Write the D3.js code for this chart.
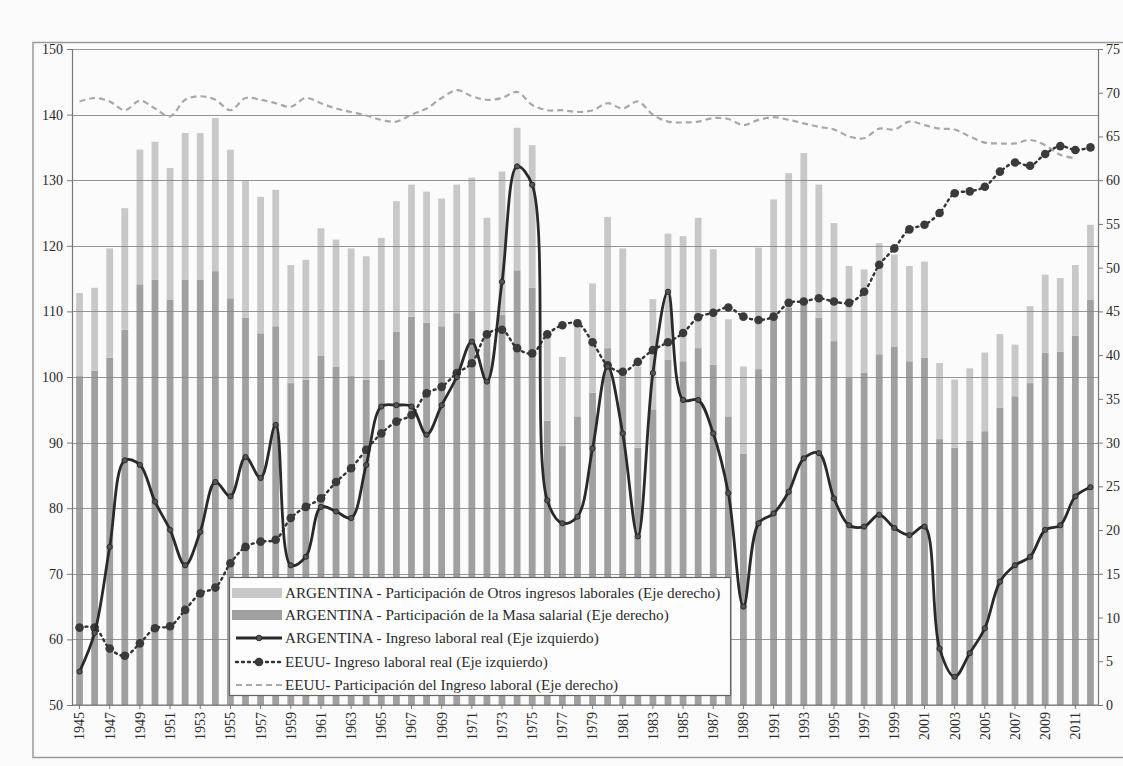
<!DOCTYPE html>
<html><head><meta charset="utf-8">
<script src="https://cdn.jsdelivr.net/npm/d3@7/dist/d3.min.js"></script>
<style>
html,body{margin:0;padding:0;background:#fbfbfb;}
svg{display:block;}
text{font-family:"Liberation Serif","DejaVu Serif",serif;fill:#2a2a2a;}
</style></head><body>
<svg id="chart" width="1123" height="766"></svg>
<script>
const years = [1945,1946,1947,1948,1949,1950,1951,1952,1953,1954,1955,1956,1957,1958,1959,1960,1961,1962,1963,1964,1965,1966,1967,1968,1969,1970,1971,1972,1973,1974,1975,1976,1977,1978,1979,1980,1981,1982,1983,1984,1985,1986,1987,1988,1989,1990,1991,1992,1993,1994,1995,1996,1997,1998,1999,2000,2001,2002,2003,2004,2005,2006,2007,2008,2009,2010,2011,2012];
const yearLabels = [1945,1947,1949,1951,1953,1955,1957,1959,1961,1963,1965,1967,1969,1971,1973,1975,1977,1979,1981,1983,1985,1987,1989,1991,1993,1995,1997,1999,2001,2003,2005,2007,2009,2011];
// ARGENTINA - Participación de la Masa salarial (right axis)
const argMasaSalarial = [37.6,38.2,39.7,42.9,48.1,48.6,46.3,48.6,48.6,49.6,46.5,44.3,42.5,43.3,36.8,37.2,39.9,38.7,37.6,37.2,39.5,42.7,44.4,43.7,43.3,44.8,45.0,42.6,44.6,49.7,47.7,32.5,29.6,33.0,35.7,40.8,38.0,29.4,33.8,39.5,39.3,40.8,38.9,33.0,28.7,38.4,44.1,45.4,46.3,44.3,41.6,37.4,38.0,40.1,41.0,39.3,39.7,30.4,29.4,30.2,31.3,34.0,35.3,36.8,40.3,40.4,42.2,46.3];
// ARGENTINA - Participación de Otros ingresos laborales (right axis, stacked)
const argOtrosIngresos = [9.5,9.5,12.5,13.9,15.4,15.8,15.1,16.8,16.8,17.5,17.0,15.6,15.6,15.6,13.5,13.7,14.6,14.5,14.6,14.1,13.9,14.9,15.1,15.0,14.6,14.7,15.3,13.1,16.4,16.3,16.3,10.0,10.2,11.1,12.5,15.0,14.2,9.3,12.6,14.4,14.3,14.9,13.2,11.1,10.0,13.9,13.7,15.4,16.8,15.2,13.5,12.8,11.8,12.7,10.5,10.9,11.0,8.7,7.8,8.3,9.0,8.4,5.9,8.8,8.9,8.4,8.1,8.6];
// ARGENTINA - Ingreso laboral real (left axis)
const argIngresoReal = [55.1,61.0,74.1,87.3,86.6,81.0,76.7,71.3,76.4,84.0,81.8,87.8,84.6,92.7,71.3,72.6,80.2,79.5,78.5,86.6,95.5,95.7,95.5,91.2,95.7,100.0,105.4,99.3,114.5,132.1,129.3,81.2,77.7,78.7,89.1,101.6,91.4,75.7,100.6,113.0,96.5,96.5,91.4,82.3,65.0,77.7,79.2,82.5,87.6,88.4,81.5,77.4,77.2,79.0,77.0,75.9,77.2,58.6,54.3,57.9,61.7,68.8,71.3,72.6,76.7,77.4,81.8,83.2];
// EEUU - Ingreso laboral real (left axis)
const usIngresoReal = [61.8,61.8,58.6,57.5,59.4,61.7,62.0,64.5,67.0,67.9,71.6,74.1,74.9,75.2,78.5,80.2,81.5,84.0,86.1,88.9,91.4,93.2,94.2,97.5,98.5,100.6,102.1,106.5,107.2,104.4,103.6,106.5,107.9,108.2,105.3,101.8,100.8,102.3,104.1,105.3,106.7,109.1,109.8,110.6,109.2,108.7,109.2,111.3,111.5,112.0,111.5,111.3,113.0,117.1,119.6,122.5,123.2,125.0,128.0,128.3,129.0,131.3,132.7,132.2,134.0,135.2,134.6,135.0];
// EEUU - Participación del Ingreso laboral (right axis)
const usParticipacion = [69.0,69.4,69.0,68.0,69.1,68.2,67.3,69.2,69.6,69.2,68.0,69.4,69.2,68.8,68.4,69.4,68.8,68.2,67.8,67.4,66.9,66.7,67.5,68.2,69.4,70.3,69.6,69.2,69.4,70.1,68.6,68.0,68.0,67.8,68.0,68.8,68.2,69.0,67.5,66.7,66.6,66.7,67.1,67.0,66.3,66.9,67.2,66.9,66.5,66.1,65.8,65.0,64.8,65.9,65.8,66.7,66.3,65.9,65.8,65.0,64.3,64.2,64.2,64.6,64.0,62.9,62.5,null];
const leftTicks = [50,60,70,80,90,100,110,120,130,140,150];
const rightTicks = [0,5,10,15,20,25,30,35,40,45,50,55,60,65,70,75];
const legendLabels = [
  "ARGENTINA - Participación de Otros ingresos laborales (Eje derecho)",
  "ARGENTINA - Participación de la Masa salarial (Eje derecho)",
  "ARGENTINA - Ingreso laboral real (Eje izquierdo)",
  "EEUU- Ingreso laboral real (Eje izquierdo)",
  "EEUU- Participación del Ingreso laboral (Eje derecho)"
];

const L = 72, R = 1098, T = 49, B = 705;
const svg = d3.select("#chart");
const colLight = "#c8c8c8", colDark = "#a0a0a0", colLine = "#2a2a2a", colGrid = "#858585";

// outer frame
svg.append("rect").attr("x",33).attr("y",42.5).attr("width",1100).attr("height",715)
  .attr("fill","none").attr("stroke","#9a9a9a").attr("stroke-width",1.5);

const x = d3.scaleBand().domain(years).range([L,R]).paddingInner(0.55).paddingOuter(0.275);
const yL = d3.scaleLinear().domain([50,150]).range([B,T]);
const yR = d3.scaleLinear().domain([0,75]).range([B,T]);
const cx = d => x(d) + x.bandwidth()/2;

// bars
const g = svg.append("g");
g.selectAll("rect.dark").data(years).join("rect").attr("class","dark")
  .attr("x",d=>x(d)).attr("width",x.bandwidth())
  .attr("y",(d,i)=>yR(argMasaSalarial[i])).attr("height",(d,i)=>yR(0)-yR(argMasaSalarial[i]))
  .attr("fill",colDark);
g.selectAll("rect.light").data(years).join("rect").attr("class","light")
  .attr("x",d=>x(d)).attr("width",x.bandwidth())
  .attr("y",(d,i)=>yR(argMasaSalarial[i]+argOtrosIngresos[i]))
  .attr("height",(d,i)=>yR(argMasaSalarial[i])-yR(argMasaSalarial[i]+argOtrosIngresos[i]))
  .attr("fill",colLight);

// gridlines
svg.append("g").selectAll("line").data(leftTicks).join("line")
  .attr("x1",L).attr("x2",R).attr("y1",d=>Math.round(yL(d))+0.5).attr("y2",d=>Math.round(yL(d))+0.5)
  .attr("stroke",colGrid).attr("stroke-width",1.2).attr("opacity",0.85);

// axes
const axL = svg.append("g").attr("transform",`translate(${L},0)`)
  .call(d3.axisLeft(yL).tickValues(leftTicks).tickSize(5).tickPadding(4));
const axR = svg.append("g").attr("transform",`translate(${R},0)`)
  .call(d3.axisRight(yR).tickValues(rightTicks).tickSize(5).tickPadding(3));
const axB = svg.append("g").attr("transform",`translate(0,${B})`)
  .call(d3.axisBottom(x).tickValues(yearLabels).tickSize(4).tickPadding(6));
[axL,axR,axB].forEach(a=>{
  a.selectAll("path").attr("stroke","#777").attr("stroke-width",1.2);
  a.selectAll("line").attr("stroke","#777");
  a.selectAll("text").attr("font-family","Liberation Serif, serif").attr("font-size",14).attr("fill","#2a2a2a");
});
axB.selectAll("text").attr("transform","rotate(-90)").attr("text-anchor","end")
  .attr("x",-7).attr("y",0).attr("dy","0.35em");
axB.select("path").attr("d",`M${L},0H${R}`);

// EEUU participación (dashed light)
const lineR = d3.line().defined(d=>d[1]!=null).curve(d3.curveCatmullRom.alpha(0.5))
  .x(d=>cx(d[0])).y(d=>yR(d[1]));
svg.append("path").datum(years.map((y,i)=>[y,usParticipacion[i]]))
  .attr("d",lineR).attr("fill","none").attr("stroke","#a8a8a8").attr("stroke-width",2.2)
  .attr("stroke-dasharray","6,4");

const lineLeft = d3.line().curve(d3.curveCatmullRom.alpha(0.5)).x(d=>cx(d[0])).y(d=>yL(d[1]));
// EEUU ingreso real (dotted with markers)
const usData = years.map((y,i)=>[y,usIngresoReal[i]]);
svg.append("path").datum(usData).attr("d",lineLeft).attr("fill","none")
  .attr("stroke","#333").attr("stroke-width",2.4).attr("stroke-dasharray","2,4").attr("stroke-linecap","round");
svg.append("g").selectAll("circle").data(usData).join("circle")
  .attr("cx",d=>cx(d[0])).attr("cy",d=>yL(d[1])).attr("r",4.3).attr("fill","#3a3a3a");

// ARG ingreso real (solid with markers)
const argData = years.map((y,i)=>[y,argIngresoReal[i]]);
svg.append("path").datum(argData).attr("d",lineLeft).attr("fill","none")
  .attr("stroke",colLine).attr("stroke-width",2.8);
svg.append("g").selectAll("circle").data(argData).join("circle")
  .attr("cx",d=>cx(d[0])).attr("cy",d=>yL(d[1])).attr("r",2.6).attr("fill","#555").attr("stroke","#2a2a2a").attr("stroke-width",1);

// legend
const lg = svg.append("g");
lg.append("rect").attr("x",229.5).attr("y",577.5).attr("width",501).attr("height",118)
  .attr("fill","#fdfdfd").attr("stroke","#666").attr("stroke-width",1.2);
const rowY = [593,615,638,662,685];
lg.append("rect").attr("x",232).attr("y",rowY[0]-5).attr("width",50).attr("height",10).attr("fill",colLight);
lg.append("rect").attr("x",232).attr("y",rowY[1]-5).attr("width",50).attr("height",10).attr("fill",colDark);
lg.append("line").attr("x1",236).attr("x2",282).attr("y1",rowY[2]).attr("y2",rowY[2]).attr("stroke",colLine).attr("stroke-width",2.8);
lg.append("circle").attr("cx",259).attr("cy",rowY[2]).attr("r",2.8).attr("fill","#555").attr("stroke","#2a2a2a");
lg.append("line").attr("x1",236).attr("x2",282).attr("y1",rowY[3]).attr("y2",rowY[3]).attr("stroke","#333").attr("stroke-width",2.4).attr("stroke-dasharray","2,4").attr("stroke-linecap","round");
lg.append("circle").attr("cx",259).attr("cy",rowY[3]).attr("r",4.3).attr("fill","#3a3a3a");
lg.append("line").attr("x1",236).attr("x2",282).attr("y1",rowY[4]).attr("y2",rowY[4]).attr("stroke","#a8a8a8").attr("stroke-width",2.2).attr("stroke-dasharray","6,4");
lg.selectAll("text").data(legendLabels).join("text")
  .attr("x",285).attr("y",(d,i)=>rowY[i]).attr("dy","0.35em")
  .attr("font-size",15.2).text(d=>d);
</script>
</body></html>
